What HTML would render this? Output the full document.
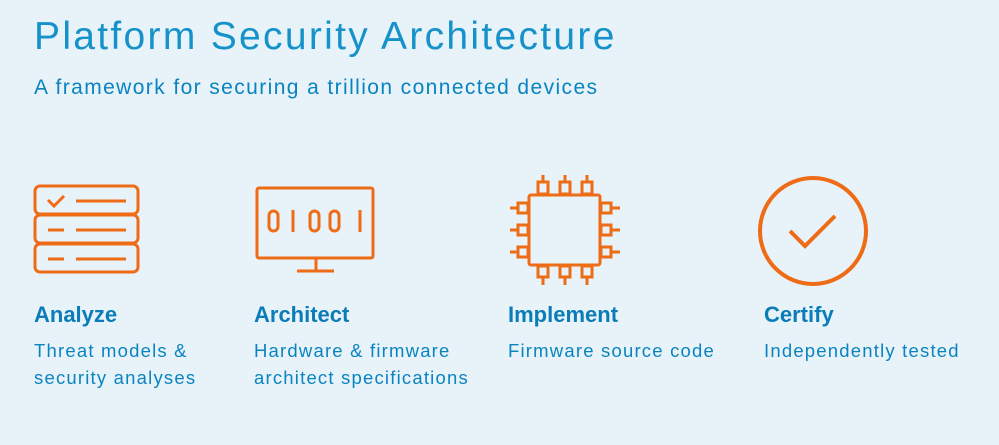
<!DOCTYPE html>
<html><head><style>
body{margin:0;width:999px;height:445px;background:#e8f2f9;font-family:"Liberation Sans",sans-serif;position:relative;overflow:hidden}
.t{position:absolute;white-space:nowrap}
h1{position:absolute;left:34px;top:15px;margin:0;font-weight:normal;font-size:39px;color:#1592c9;letter-spacing:2.3px}
.sub{left:34px;top:76px;font-size:21px;color:#0a84c0;letter-spacing:1.4px}
.h{font-weight:bold;font-size:22px;color:#0a7cb8;top:302px}
.d{font-size:18.5px;color:#0a84c0;top:337px;line-height:27px;letter-spacing:1.2px}
</style></head><body>
<h1>Platform Security Architecture</h1>
<div class="t sub">A framework for securing a trillion connected devices</div>
<svg width="999" height="445" style="position:absolute;left:0;top:0" fill="none" stroke="#ee6c16" stroke-width="3">
<rect x="35" y="186" width="103" height="28" rx="5"/>
<rect x="35" y="215" width="103" height="28" rx="5"/>
<rect x="35" y="244" width="103" height="28" rx="5"/>
<polyline points="48,200 54,206 64,196"/>
<line x1="76" y1="201" x2="126" y2="201"/><line x1="76" y1="230" x2="126" y2="230"/><line x1="76" y1="259" x2="126" y2="259"/>
<line x1="48" y1="230" x2="64" y2="230"/><line x1="48" y1="259" x2="64" y2="259"/>
<rect x="257" y="188" width="116" height="70" rx="2"/>
<line x1="316" y1="258" x2="316" y2="270"/><line x1="297" y1="271" x2="334" y2="271"/>
<rect x="269" y="211" width="9" height="20" rx="4.5"/><line x1="293" y1="210" x2="293" y2="232"/>
<rect x="310" y="211" width="9" height="20" rx="4.5"/><rect x="330" y="211" width="9" height="20" rx="4.5"/><line x1="360" y1="210" x2="360" y2="232"/>
<rect x="529" y="195" width="71" height="70" rx="2"/>
<rect x="538" y="182" width="10" height="12"/><line x1="543" y1="175" x2="543" y2="182"/>
<rect x="560" y="182" width="10" height="12"/><line x1="565" y1="175" x2="565" y2="182"/>
<rect x="582" y="182" width="10" height="12"/><line x1="587" y1="175" x2="587" y2="182"/>
<rect x="538" y="266" width="10" height="11"/><line x1="543" y1="277" x2="543" y2="285"/>
<rect x="560" y="266" width="10" height="11"/><line x1="565" y1="277" x2="565" y2="285"/>
<rect x="582" y="266" width="10" height="11"/><line x1="587" y1="277" x2="587" y2="285"/>
<rect x="518" y="203" width="10" height="10"/><line x1="510" y1="208" x2="518" y2="208"/>
<rect x="518" y="225" width="10" height="10"/><line x1="510" y1="230" x2="518" y2="230"/>
<rect x="518" y="247" width="10" height="10"/><line x1="510" y1="252" x2="518" y2="252"/>
<rect x="601" y="203" width="10" height="10"/><line x1="611" y1="208" x2="620" y2="208"/>
<rect x="601" y="225" width="10" height="10"/><line x1="611" y1="230" x2="620" y2="230"/>
<rect x="601" y="247" width="10" height="10"/><line x1="611" y1="252" x2="620" y2="252"/>
<circle cx="813" cy="231" r="53" stroke-width="4"/>
<polyline points="790,231 805,246 835,216" stroke-width="4"/>
</svg>
<div class="t h" style="left:34px">Analyze</div>
<div class="t h" style="left:254px">Architect</div>
<div class="t h" style="left:508px">Implement</div>
<div class="t h" style="left:764px">Certify</div>
<div class="t d" style="left:34px">Threat models &amp;<br>security analyses</div>
<div class="t d" style="left:254px">Hardware &amp; firmware<br>architect specifications</div>
<div class="t d" style="left:508px">Firmware source code</div>
<div class="t d" style="left:764px">Independently tested</div>
</body></html>
